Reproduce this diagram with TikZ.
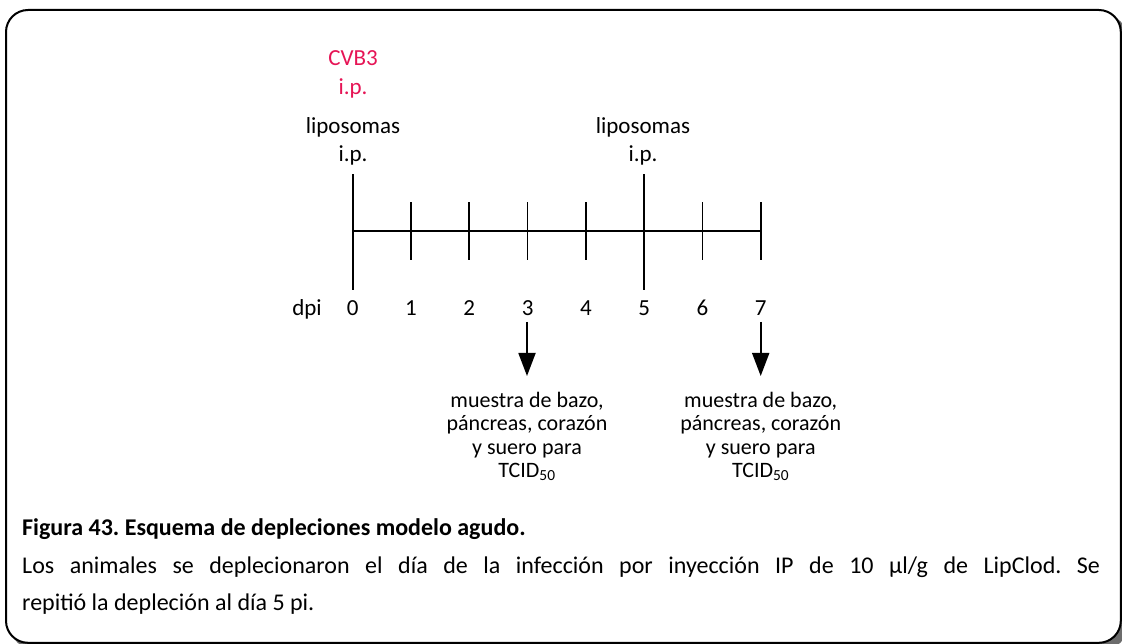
\documentclass[tikz,border=0pt]{standalone}
\usepackage{fontspec}
\setmainfont{Carlito}
\usetikzlibrary{arrows.meta}
\definecolor{cvred}{RGB}{230,20,85}
\frenchspacing
\begin{document}
\begin{tikzpicture}[x=1pt,y=-1pt,
  toplbl/.style={font=\fontsize{23}{28}\selectfont, inner sep=0pt, anchor=center},
  daylbl/.style={font=\fontsize{23}{28}\selectfont, inner sep=0pt, anchor=base},
  blocklbl/.style={font=\fontsize{22}{23.4}\selectfont, inner sep=0pt, align=center, anchor=north},
  axisline/.style={line width=1.5pt},
  smalltick/.style={line width=1.7pt},
  talltick/.style={line width=2.2pt},
  downarrow/.style={line width=1.8pt, -{Triangle[width=17pt,length=23pt]}},
  frame/.style={line width=2pt, rounded corners=22pt}
]
\useasboundingbox (0,0) rectangle (1122,644);
% frame with shadow
\begin{scope}
\clip (0,0) rectangle (1122,644);
\fill[gray!85!black, rounded corners=22pt] (11,15) rectangle (1127,649);
\draw[frame, fill=white] (6,10) rectangle (1120.8,642.8);
\end{scope}

% axis coordinates
\foreach \i in {0,...,7} {
  \coordinate (t\i) at ({352.7+58.3*\i},231);
}
\draw[axisline] (t0) -- (t7);
\foreach \i in {1,2,3,4,6,7} {
  \draw[smalltick] ([yshift=-29pt]t\i) -- ([yshift=29pt]t\i);
}
\draw[talltick] ([yshift=-59pt]t0) -- ([yshift=57pt]t0);
\draw[talltick] ([yshift=-59pt]t5) -- ([yshift=57pt]t5);

% top labels
\node[toplbl, text=cvred] (cvb) at (353,58) {CVB3};
\node[toplbl, text=cvred] (cvbip) at (353,88) {i.p.};
\node[toplbl] (lipa) at (353,127) {liposomas};
\node[toplbl] (lipaip) at (353,155) {i.p.};
\node[toplbl] (lipb) at (643,127) {liposomas};
\node[toplbl] (lipbip) at (643,155) {i.p.};

% day labels
\node[daylbl] (dpi) at (307,316) {dpi};
\foreach \i in {0,...,7} {
  \node[daylbl] (d\i) at ({352.7+58.3*\i},316) {\i};
}

% arrows
\coordinate (a3s) at (527,322);
\coordinate (a3e) at (527,376);
\coordinate (a7s) at (760.7,322);
\coordinate (a7e) at (760.7,376);
\draw[downarrow] (a3s) -- (a3e);
\draw[downarrow] (a7s) -- (a7e);

% sample blocks
\node[blocklbl] (m3) at (527,392) {muestra de bazo,\\páncreas, corazón\\y suero para\\TCID\textsubscript{50}};
\node[blocklbl] (m7) at (760.7,392) {muestra de bazo,\\páncreas, corazón\\y suero para\\TCID\textsubscript{50}};

% caption
\node[font=\fontsize{24}{28}\selectfont\bfseries, inner sep=0pt, anchor=base west] (cap) at (22,535) {Figura 43. Esquema de depleciones modelo agudo.};
\node[font=\fontsize{24}{37}\selectfont, inner sep=0pt, anchor=base west, text width=1078pt, align=justify] (body) at (22,573) {Los animales se deplecionaron el día de la infección por inyección IP de 10 µl/g de LipClod. Se\linebreak repitió la depleción al día 5 pi.};
\end{tikzpicture}
\end{document}
